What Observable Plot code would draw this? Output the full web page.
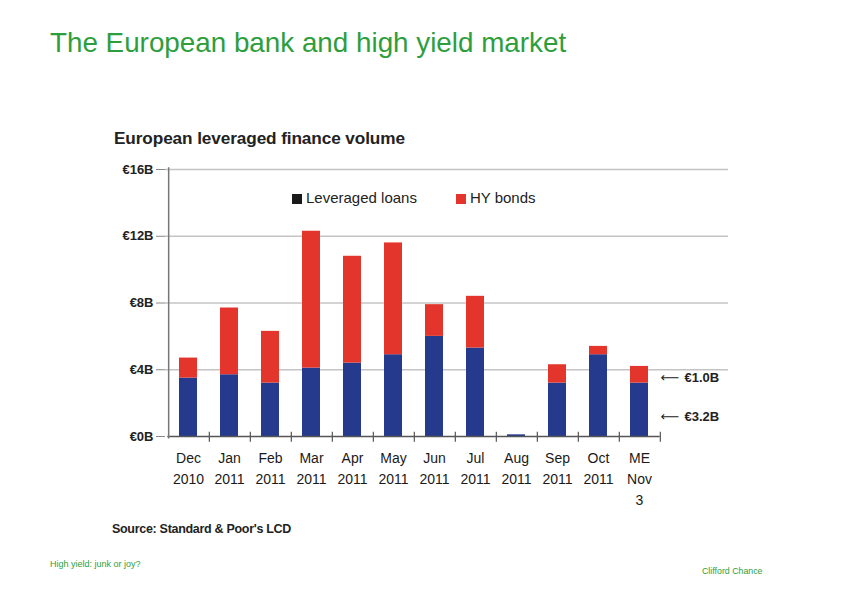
<!DOCTYPE html>
<html>
<head>
<meta charset="utf-8">
<script src="https://cdn.jsdelivr.net/npm/d3@7"></script>
<script src="https://cdn.jsdelivr.net/npm/@observablehq/plot@0.6"></script>
<style>
  html, body { margin: 0; padding: 0; background: #fff; }
  body { width: 842px; height: 595px; position: relative; overflow: hidden; font-family: "Liberation Sans", Arial, sans-serif; }
  .abs { position: absolute; white-space: nowrap; }
  #slideTitle { left: 50px; top: 27px; font-size: 27.8px; color: #2e9e3c; }
  #chartTitle { left: 114px; top: 128px; font-size: 17.2px; font-weight: bold; color: #222; letter-spacing: -0.1px; }
  #legend { left: 292px; top: 189px; font-size: 15px; color: #222; }
  #legend span.sw { display: inline-block; width: 10px; height: 10px; margin-right: 4px; vertical-align: -1px; }
  #source { left: 112px; top: 522px; font-size: 12.5px; font-weight: bold; color: #222; letter-spacing: -0.3px; }
  #footL { left: 50px; top: 559px; font-size: 9px; color: #2e9e3c; }
  #footR { left: 702px; top: 566px; font-size: 8.8px; color: #2e9e3c; }
  #chart { position: absolute; left: 0; top: 0; }
</style>
</head>
<body>
<div id="chart"></div>
<div class="abs" id="slideTitle">The European bank and high yield market</div>
<div class="abs" id="chartTitle">European leveraged finance volume</div>
<div class="abs" id="legend"><span class="sw" style="background:#1a1a1a"></span>Leveraged loans<span style="display:inline-block;width:39px"></span><span class="sw" style="background:#e3352b"></span>HY bonds</div>
<div class="abs" id="source">Source: Standard &amp; Poor's LCD</div>
<div class="abs" id="footL">High yield: junk or joy?</div>
<div class="abs" id="footR">Clifford Chance</div>
<script>
// Categories (x tick labels)
const months = ["Dec\n2010", "Jan\n2011", "Feb\n2011", "Mar\n2011", "Apr\n2011", "May\n2011",
                "Jun\n2011", "Jul\n2011", "Aug\n2011", "Sep\n2011", "Oct\n2011", "ME\nNov\n3"];
// Series values, € billions
const leveragedLoans = [3.5, 3.7, 3.2, 4.1, 4.4, 4.9, 6.0, 5.3, 0.1, 3.2, 4.9, 3.2];
const hyBonds        = [1.2, 4.0, 3.1, 8.2, 6.4, 6.7, 1.9, 3.1, 0.0, 1.1, 0.5, 1.0];
const seriesNames = ["Leveraged loans", "HY bonds"];
const seriesColors = ["#253a8c", "#e3352b"];
// Y tick values
const yTicks = [0, 4, 8, 12, 16];

const rows = [];
months.forEach((m, i) => {
  rows.push({month: m, series: seriesNames[0], value: leveragedLoans[i]});
  rows.push({month: m, series: seriesNames[1], value: hyBonds[i]});
});
const last = months.length - 1;
const noteHY = [{month: months[last], y: leveragedLoans[last] + hyBonds[last] / 2, text: "€" + hyBonds[last].toFixed(1) + "B"}];
const noteLL = [{month: months[last], y: leveragedLoans[last] / 2, text: "€" + leveragedLoans[last].toFixed(1) + "B"}];

const step = 500 / 12;
const font = "'Liberation Sans', Arial, sans-serif";

function note(data, dy) {
  return [
    Plot.text(data, {x: "month", y: "y", text: () => "\u27f5", dx: 21, dy, textAnchor: "start",
                     fontSize: 13, fontFamily: "DejaVu Sans", fill: "#222"}),
    Plot.text(data, {x: "month", y: "y", text: "text", dx: 45, dy, textAnchor: "start",
                     fontSize: 13, fontWeight: "bold", fill: "#222"})
  ];
}

const chart = Plot.plot({
  width: 842,
  height: 595,
  marginLeft: 165,
  marginRight: 114,
  marginTop: 169,
  marginBottom: 159,
  style: {background: "transparent", fontFamily: font},
  x: {type: "band", domain: months, range: [164, 664], paddingInner: 0.56, paddingOuter: 0.28, axis: null},
  y: {domain: [0, 16]},
  color: {domain: seriesNames, range: seriesColors},
  marks: [
    Plot.ruleY(yTicks.filter(d => d > 0), {stroke: "#c4c4c4", strokeWidth: 1.3}),
    Plot.axisY({ticks: yTicks, tickFormat: d => "€" + d + "B", tickSize: 9, tickPadding: 3,
                stroke: "#888", fontSize: 13, fontWeight: "bold", fill: "#222", label: null}),
    Plot.barY(rows, {x: "month", y: "value", fill: "series", order: seriesNames}),
    Plot.tickY(months, {x: d => d, y: () => 0, stroke: "#555", strokeWidth: 1.5,
                        insetLeft: -(step * 0.56) / 2, insetRight: -(step * 0.56) / 2}),
    Plot.ruleX([months[0]], {x: d => d, dx: -step / 2 + 1, y1: 16.1, y2: -0.15, stroke: "#777", strokeWidth: 1.5}),
    Plot.ruleX(months, {x: d => d, dx: step / 2, y1: 0.25, y2: -0.35, stroke: "#555", strokeWidth: 1.2}),
    Plot.text(months, {x: d => d, text: d => d, frameAnchor: "bottom", lineAnchor: "top", dy: 12,
                       fontSize: 14, lineHeight: 1.5, fill: "#1a1a1a"}),
    ...note(noteHY, 3),
    ...note(noteLL, 7)
  ]
});
document.getElementById("chart").appendChild(chart);
</script>
</body>
</html>
